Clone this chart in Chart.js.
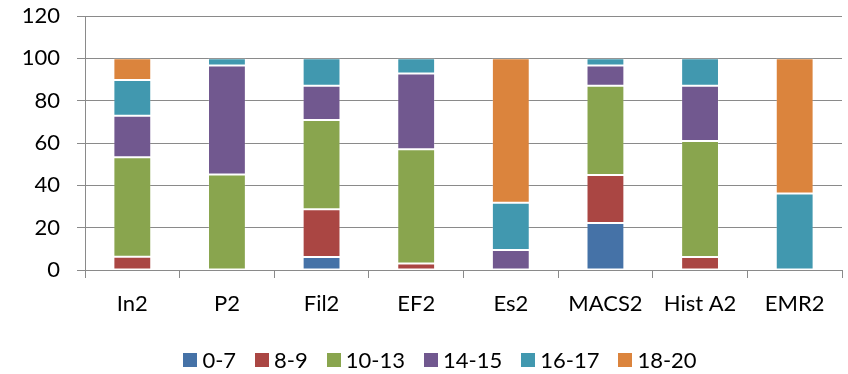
<!DOCTYPE html>
<html>
<head>
<meta charset="utf-8">
<script src="https://cdn.jsdelivr.net/npm/chart.js@4/dist/chart.umd.min.js"></script>
<style>
html,body{margin:0;padding:0;background:#fff;}
#wrap{width:848px;height:374px;position:relative;}
</style>
</head>
<body>
<div id="wrap"><canvas id="c" width="848" height="374"></canvas></div>
<script>
const categories = ['In2','P2','Fil2','EF2','Es2','MACS2','Hist A2','EMR2'];
const seriesNames = ['0-7','8-9','10-13','14-15','16-17','18-20'];
const s0_7   = [0, 0, 6.1, 0, 0, 22.2, 0, 0];
const s8_9   = [6.3, 0, 22.6, 3.1, 0, 22.7, 6.1, 0];
const s10_13 = [47.0, 45.1, 42.2, 53.9, 0, 42.1, 54.9, 0];
const s14_15 = [19.6, 51.5, 16.1, 35.8, 9.4, 9.6, 26.0, 0];
const s16_17 = [16.9, 3.4, 13.0, 7.2, 22.4, 3.4, 13.0, 36.1];
const s18_20 = [10.2, 0, 0, 0, 68.2, 0, 0, 63.9];
const yTicks = [0,20,40,60,80,100,120];

const colors = ['#4572A7','#AA4643','#89A54E','#71588F','#4198AF','#DB843D'];
const values = [s0_7, s8_9, s10_13, s14_15, s16_17, s18_20];

const FONT = "Lato";
const FSIZE = 22;
const gridColor = '#8a8a8a';

// Legend drawn from the chart's own dataset labels/colours
const legendPlugin = {
  id: 'excelLegend',
  afterDraw(chart) {
    const ctx = chart.ctx;
    const items = chart.data.datasets.map(d => ({ text: d.label, color: d.backgroundColor }));
    ctx.save();
    ctx.font = FSIZE + 'px ' + FONT;
    const box = 14, gap = 5, spacing = 19;
    const widths = items.map(it => ctx.measureText(it.text).width);
    let total = 0;
    widths.forEach((w, i) => { total += box + gap + w + (i < widths.length - 1 ? spacing : 0); });
    let x = 440 - total / 2;
    const cy = 360;
    ctx.textBaseline = 'middle';
    ctx.textAlign = 'left';
    items.forEach((it, i) => {
      ctx.fillStyle = it.color;
      ctx.fillRect(Math.round(x), Math.round(cy - 7), box, box);
      ctx.fillStyle = '#000';
      ctx.fillText(it.text, x + box + gap, cy + 1);
      x += box + gap + widths[i] + spacing;
    });
    ctx.restore();
  }
};

new Chart(document.getElementById('c'), {
  type: 'bar',
  data: {
    labels: categories,
    datasets: values.map((v,i)=>({
      label: seriesNames[i],
      data: v,
      backgroundColor: colors[i],
      borderWidth: 1,
      borderColor: 'rgba(255,255,255,0.16)',
      borderSkipped: false,
      barPercentage: 0.4,
      categoryPercentage: 1.0
    }))
  },
  plugins: [legendPlugin],
  options: {
    responsive: false,
    animation: false,
    devicePixelRatio: 1,
    layout: { padding: { left: 0, right: 6, top: 16, bottom: 60 } },
    plugins: {
      tooltip: { enabled: false },
      legend: { display: false }
    },
    scales: {
      x: {
        stacked: true,
        afterFit: (s) => { s.height = 44; s.paddingLeft = 0; s.paddingRight = 0; },
        grid: { display: true, drawOnChartArea: false, drawTicks: true, tickLength: 8, color: gridColor, offset: true },
        border: { color: gridColor, width: 1 },
        ticks: { color: '#000', font: { family: FONT, size: FSIZE }, padding: 13, maxRotation: 0, autoSkip: false }
      },
      y: {
        stacked: true,
        min: 0, max: 120,
        afterBuildTicks: (s) => { s.ticks = yTicks.map(v => ({ value: v })); },
        afterFit: (s) => { s.width = 85; s.paddingTop = 0; s.paddingBottom = 0; },
        grid: { color: gridColor, lineWidth: 1, tickLength: 8, drawTicks: true },
        border: { color: gridColor, width: 1 },
        ticks: { color: '#000', font: { family: FONT, size: FSIZE }, padding: 17 }
      }
    }
  }
});
</script>
</body>
</html>
